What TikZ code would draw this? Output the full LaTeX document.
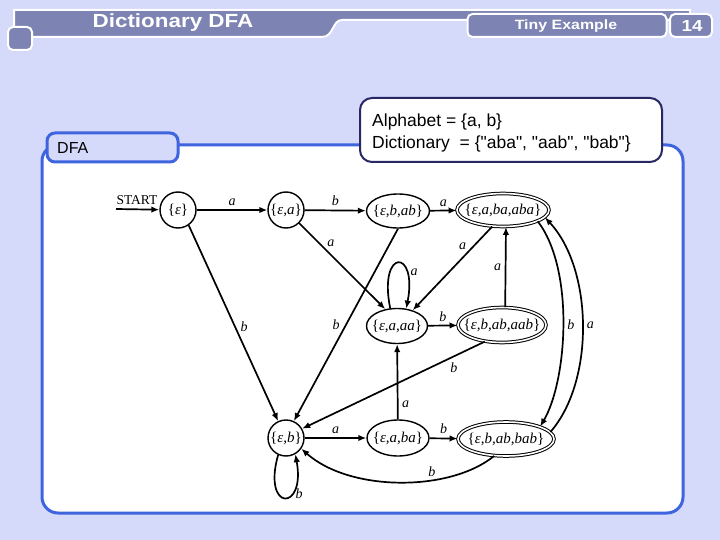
\documentclass[tikz,border=0pt]{standalone}
\usepackage{fontspec}
\setmainfont{Liberation Serif}
\newfontfamily\arial{Liberation Sans}
\newfontfamily\titlefont[FakeStretch=1.18]{Liberation Sans Bold}
\usetikzlibrary{arrows.meta,shapes.geometric,calc}
\definecolor{bgc}{RGB}{213,217,250}
\definecolor{titlec}{RGB}{125,131,178}
\definecolor{panelblue}{RGB}{62,100,222}
\definecolor{navy}{RGB}{40,40,100}
\newcommand{\stt}[1]{\makebox[0pt]{\{\textit{#1}\}}}
\tikzset{
  titlebox/.style={draw=white, line width=2pt, fill=titlec, rounded corners=5pt, inner sep=0pt},
  titletext/.style={text=white, inner sep=0pt},
  stcircle/.style={circle, draw, line width=1.4pt, inner sep=0pt, font=\fontsize{15}{17}\selectfont},
  stell/.style={ellipse, draw, line width=1.4pt, inner sep=0pt, font=\fontsize{15}{17}\selectfont},
  stacc/.style={ellipse, draw, line width=1pt, double, double distance=1.6pt, inner sep=0pt, font=\fontsize{15}{17}\selectfont},
  arr/.style={line width=1.7pt, -{Latex[length=8pt,width=6.5pt]}},
  lab/.style={font=\fontsize{14}{16}\selectfont\itshape, inner sep=1.5pt},
}
\begin{document}
\begin{tikzpicture}[x=1pt,y=-1pt]
\useasboundingbox (0,0) rectangle (720,540);
\fill[bgc] (0,0) rectangle (720,540);
% title bar
\draw[white, line width=2pt, fill=titlec] (14,37) -- (14,10) -- (690,10) -- (690,20) -- (342,20) .. controls (332,20) and (334,37) .. (322,37) -- cycle;
\node[titlebox, minimum width=24pt, minimum height=23pt] (sq) at (20,38.5) {};
\node[titletext, font=\titlefont\fontsize{19}{22}\selectfont] (title) at (173,23) {Dictionary DFA};
\node[titlebox, minimum width=199pt, minimum height=23pt] (tiny) at (567,25.5) {};
\node[titletext, font=\titlefont\fontsize{13.5}{16}\selectfont] (tinyt) at (566,26) {Tiny Example};
\draw[white, line width=2pt, fill=titlec, rounded corners=5pt] (670,14) -- (712,14) -- (712,37) -- (670,37) -- cycle;
\node[titletext, font=\titlefont\fontsize{16}{18}\selectfont] (num) at (692,25.5) {14};
% panel
\draw[panelblue, line width=3pt, fill=white, rounded corners=16pt] (42,145) rectangle (683,513);
\node[draw=panelblue, line width=3pt, fill=bgc, rounded corners=8pt, minimum width=131pt, minimum height=29pt, inner sep=0pt] (dfatab) at (112.5,147.5) {};
\node[font=\arial\fontsize{16}{18}\selectfont, anchor=west, inner sep=0pt] (dfat) at (57,148) {DFA};
% alphabet box
\node[draw=navy, line width=2pt, fill=white, rounded corners=12pt, minimum width=302pt, minimum height=64pt, inner sep=0pt] (alph) at (511,130) {};
\node[font=\arial\fontsize{17.5}{22}\selectfont, anchor=west, align=left, inner sep=0pt] (alpht) at (372,133) {Alphabet = \{a, b\}\\Dictionary\ \ = \{"aba", "aab", "bab"\}};
% states
\node[font=\fontsize{13.5}{16}\selectfont, inner sep=0pt] (start) at (137,200) {START};
\coordinate (st0) at (116,209);
\node[stcircle, minimum size=36pt] (s0) at (178,210) {\stt{ε}};
\node[stcircle, minimum size=36pt] (s1) at (286,210) {\stt{ε,a}};
\node[stell, minimum width=63pt, minimum height=34pt] (s2) at (398,211) {\stt{ε,b,ab}};
\node[stacc, minimum width=92pt, minimum height=33pt] (s3) at (503,210) {\stt{ε,a,ba,aba}};
\node[stell, minimum width=61pt, minimum height=35pt] (s4) at (397,326) {\stt{ε,a,aa}};
\node[stacc, minimum width=88pt, minimum height=35pt] (s5) at (502,325) {\stt{ε,b,ab,aab}};
\node[stcircle, minimum size=36pt] (s6) at (286,438) {\stt{ε,b}};
\node[stell, minimum width=62pt, minimum height=36pt] (s7) at (398,438) {\stt{ε,a,ba}};
\node[stacc, minimum width=96pt, minimum height=34pt] (s8) at (506,439) {\stt{ε,b,ab,bab}};
% edges
\draw[arr] (st0) -- (s0);
\draw[arr] (s0) -- node[lab, above=2pt] {a} (s1);
\draw[arr] (s1) -- node[lab, above=2pt] {b} (s2);
\draw[arr] (s2) -- node[lab, above=2pt] {a} (s3);
\draw[arr] (s1) -- node[lab, pos=0.3, above right=0pt] {a} (s4.125);
\draw[arr] (s4.111) .. controls (378,248) and (418,248) .. node[lab, pos=0.72, right=2pt] {a} (s4.62);
\draw[arr] (s3.237) -- node[lab, pos=0.3, above left=0pt] {a} (s4.45);
\draw[arr] (s2.270) -- node[lab, pos=0.5, left=4pt] {b} (s6.65);
\draw[arr] (s0.305) -- node[lab, pos=0.52, right=3pt] {b} (s6.115);
\draw[arr] (s4) -- node[lab, above=2pt] {b} (s5);
\draw[arr] (s5.80) -- node[lab, pos=0.5, left=2pt] {a} (s3.280);
\draw[arr] (s5.224) -- node[lab, pos=0.17, below=4pt] {b} (s6.30);
\draw[arr] (s7) -- node[lab, pos=0.2, right=2pt] {a} (s4);
\draw[arr] (s6) -- node[lab, above=2pt] {a} (s7);
\draw[arr] (s7) -- node[lab, above=2pt] {b} (s8);
\draw[arr] (s8.235) .. controls (450,492) and (350,492) .. node[lab, pos=0.35, above=1pt] {b} (s6.-35);
\draw[arr] (s6.245) .. controls (262,512) and (306,512) .. node[lab, pos=0.65, right=2pt] {b} (s6.300);
\draw[arr] (s3.-18) .. controls (575,270) and (567,381) .. node[lab, pos=0.5, right=2pt] {b} (s8.20);
\draw[arr] (s8.9) .. controls (595,381) and (593,269) .. node[lab, pos=0.5, right=2pt] {a} (s3.-10);
\end{tikzpicture}
\end{document}
